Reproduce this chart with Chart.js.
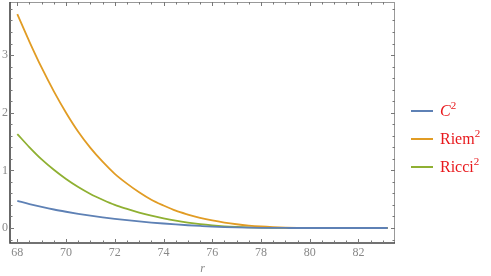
<!DOCTYPE html>
<html><head><meta charset="utf-8">
<script src="https://cdn.jsdelivr.net/npm/chart.js@4/dist/chart.umd.min.js"></script>
<style>
html,body{margin:0;padding:0;background:#fff;}
#wrap{position:relative;width:491px;height:276px;}
#legend{position:absolute;left:411px;top:99px;font-family:"Liberation Serif",serif;font-size:16px;color:#e8181c;}
.item{position:relative;height:28px;line-height:24px;padding-left:29px;white-space:nowrap;}
.item .sw{position:absolute;left:0;top:11px;width:22px;height:2px;}
sup{font-size:11px;vertical-align:7px;line-height:0;}
</style></head>
<body><div id="wrap"><canvas id="c" width="491" height="276"></canvas>
<div id="legend">
<div class="item"><span class="sw" style="background:#5e81b5"></span><i>C</i><sup>2</sup></div>
<div class="item"><span class="sw" style="background:#e19c24"></span>Riem<sup>2</sup></div>
<div class="item"><span class="sw" style="background:#8fb032"></span>Ricci<sup>2</sup></div>
</div></div>
<script>
const rValues = [68,68.5,69,69.5,70,70.5,71,71.5,72,72.5,73,73.5,74,74.5,75,75.5,76,76.5,77,77.5,78,78.5,79,79.5,80,80.5,81,81.5,82,82.5,83,83.2];
const weylSq  = [0.47,0.415,0.366,0.321,0.282,0.246,0.214,0.185,0.159,0.135,0.114,0.095,0.078,0.062,0.048,0.036,0.025,0.017,0.011,0.007,0.004,0.002,0.001,0,0,0,0,0,0,0,0,0];
const riemSq  = [3.71,3.23,2.78,2.37,2.00,1.67,1.39,1.15,0.94,0.77,0.62,0.49,0.39,0.30,0.234,0.177,0.131,0.094,0.065,0.043,0.027,0.016,0.008,0.004,0.002,0.001,0,0,0,0,0,0];
const ricciSq = [1.63,1.40,1.19,1.01,0.85,0.71,0.59,0.49,0.40,0.33,0.267,0.213,0.167,0.127,0.094,0.067,0.046,0.030,0.019,0.011,0.006,0.003,0.001,0,0,0,0,0,0,0,0,0];
const xTicks = [68,70,72,74,76,78,80,82];
const yTicks = [0,1,2,3];

function pts(arr){return rValues.map((r,i)=>({x:r,y:arr[i]}));}

const frame = {
  id:'frame',
  afterDraw(chart){
    const ctx=chart.ctx, a=chart.chartArea, xs=chart.scales.x, ys=chart.scales.y;
    ctx.save();
    ctx.strokeStyle='#999'; ctx.lineWidth=1;
    ctx.beginPath();
    ctx.moveTo(a.left,a.top+0.5); ctx.lineTo(a.right,a.top+0.5);
    ctx.moveTo(a.right-0.5,a.top); ctx.lineTo(a.right-0.5,a.bottom);
    ctx.stroke();
    ctx.strokeStyle='#444'; ctx.lineWidth=1.6;
    ctx.beginPath();
    ctx.moveTo(a.left,a.top); ctx.lineTo(a.left,a.bottom);
    ctx.lineTo(a.right,a.bottom);
    ctx.stroke();
    ctx.lineWidth=1; ctx.strokeStyle='#777';
    ctx.beginPath();
    for(let v=68; v<=83.01; v+=0.5){
      const px=Math.round(xs.getPixelForValue(v))+0.5;
      const major = Math.abs(v%2)<1e-6;
      const L = major?4:2.5;
      ctx.moveTo(px,a.bottom); ctx.lineTo(px,a.bottom-L);
      ctx.moveTo(px,a.top); ctx.lineTo(px,a.top+L);
    }
    for(let k=-1; k<=19; k++){
      const v=k*0.2;
      const py=Math.round(ys.getPixelForValue(v))+0.5;
      if(py<a.top||py>a.bottom) continue;
      const major = k%5===0;
      const L = major?4:2.5;
      ctx.moveTo(a.left,py); ctx.lineTo(a.left+L,py);
      ctx.moveTo(a.right,py); ctx.lineTo(a.right-L,py);
    }
    ctx.stroke();
    ctx.restore();
  }
};

const ds = (label,arr,color)=>({label,data:pts(arr),borderColor:color,borderWidth:1.8,pointRadius:0,cubicInterpolationMode:'monotone',fill:false});

new Chart(document.getElementById('c'),{
  type:'line',
  data:{datasets:[
    ds('C²',weylSq,'#5e81b5'),
    ds('Riem²',riemSq,'#e19c24'),
    ds('Ricci²',ricciSq,'#8fb032')
  ]},
  options:{
    responsive:false,animation:false,
    layout:{padding:{top:2,right:96,left:0,bottom:0}},
    plugins:{legend:{display:false},tooltip:{enabled:false}},
    scales:{
      x:{type:'linear',min:67.7,max:83.5,
        afterBuildTicks(s){s.ticks=xTicks.map(v=>({value:v}));},
        afterFit(s){s.height=33;s.paddingLeft=0;s.paddingRight=0;},
        grid:{display:false,drawTicks:false},border:{display:false},
        ticks:{color:'#888',font:{family:'Liberation Serif',size:12},padding:3,maxRotation:0,autoSkip:false},
        title:{display:true,text:'r',color:'#888',font:{family:'Liberation Serif',size:12,style:'italic'},padding:{top:0,bottom:0}}
      },
      y:{type:'linear',min:-0.26,max:3.92,
        afterBuildTicks(s){s.ticks=yTicks.map(v=>({value:v}));},
        afterFit(s){s.width=10;s.paddingTop=0;s.paddingBottom=0;},
        grid:{display:false,drawTicks:false},border:{display:false},
        ticks:{color:'#888',font:{family:'Liberation Serif',size:12},padding:2}
      }
    }
  },
  plugins:[frame]
});
</script></body></html>
